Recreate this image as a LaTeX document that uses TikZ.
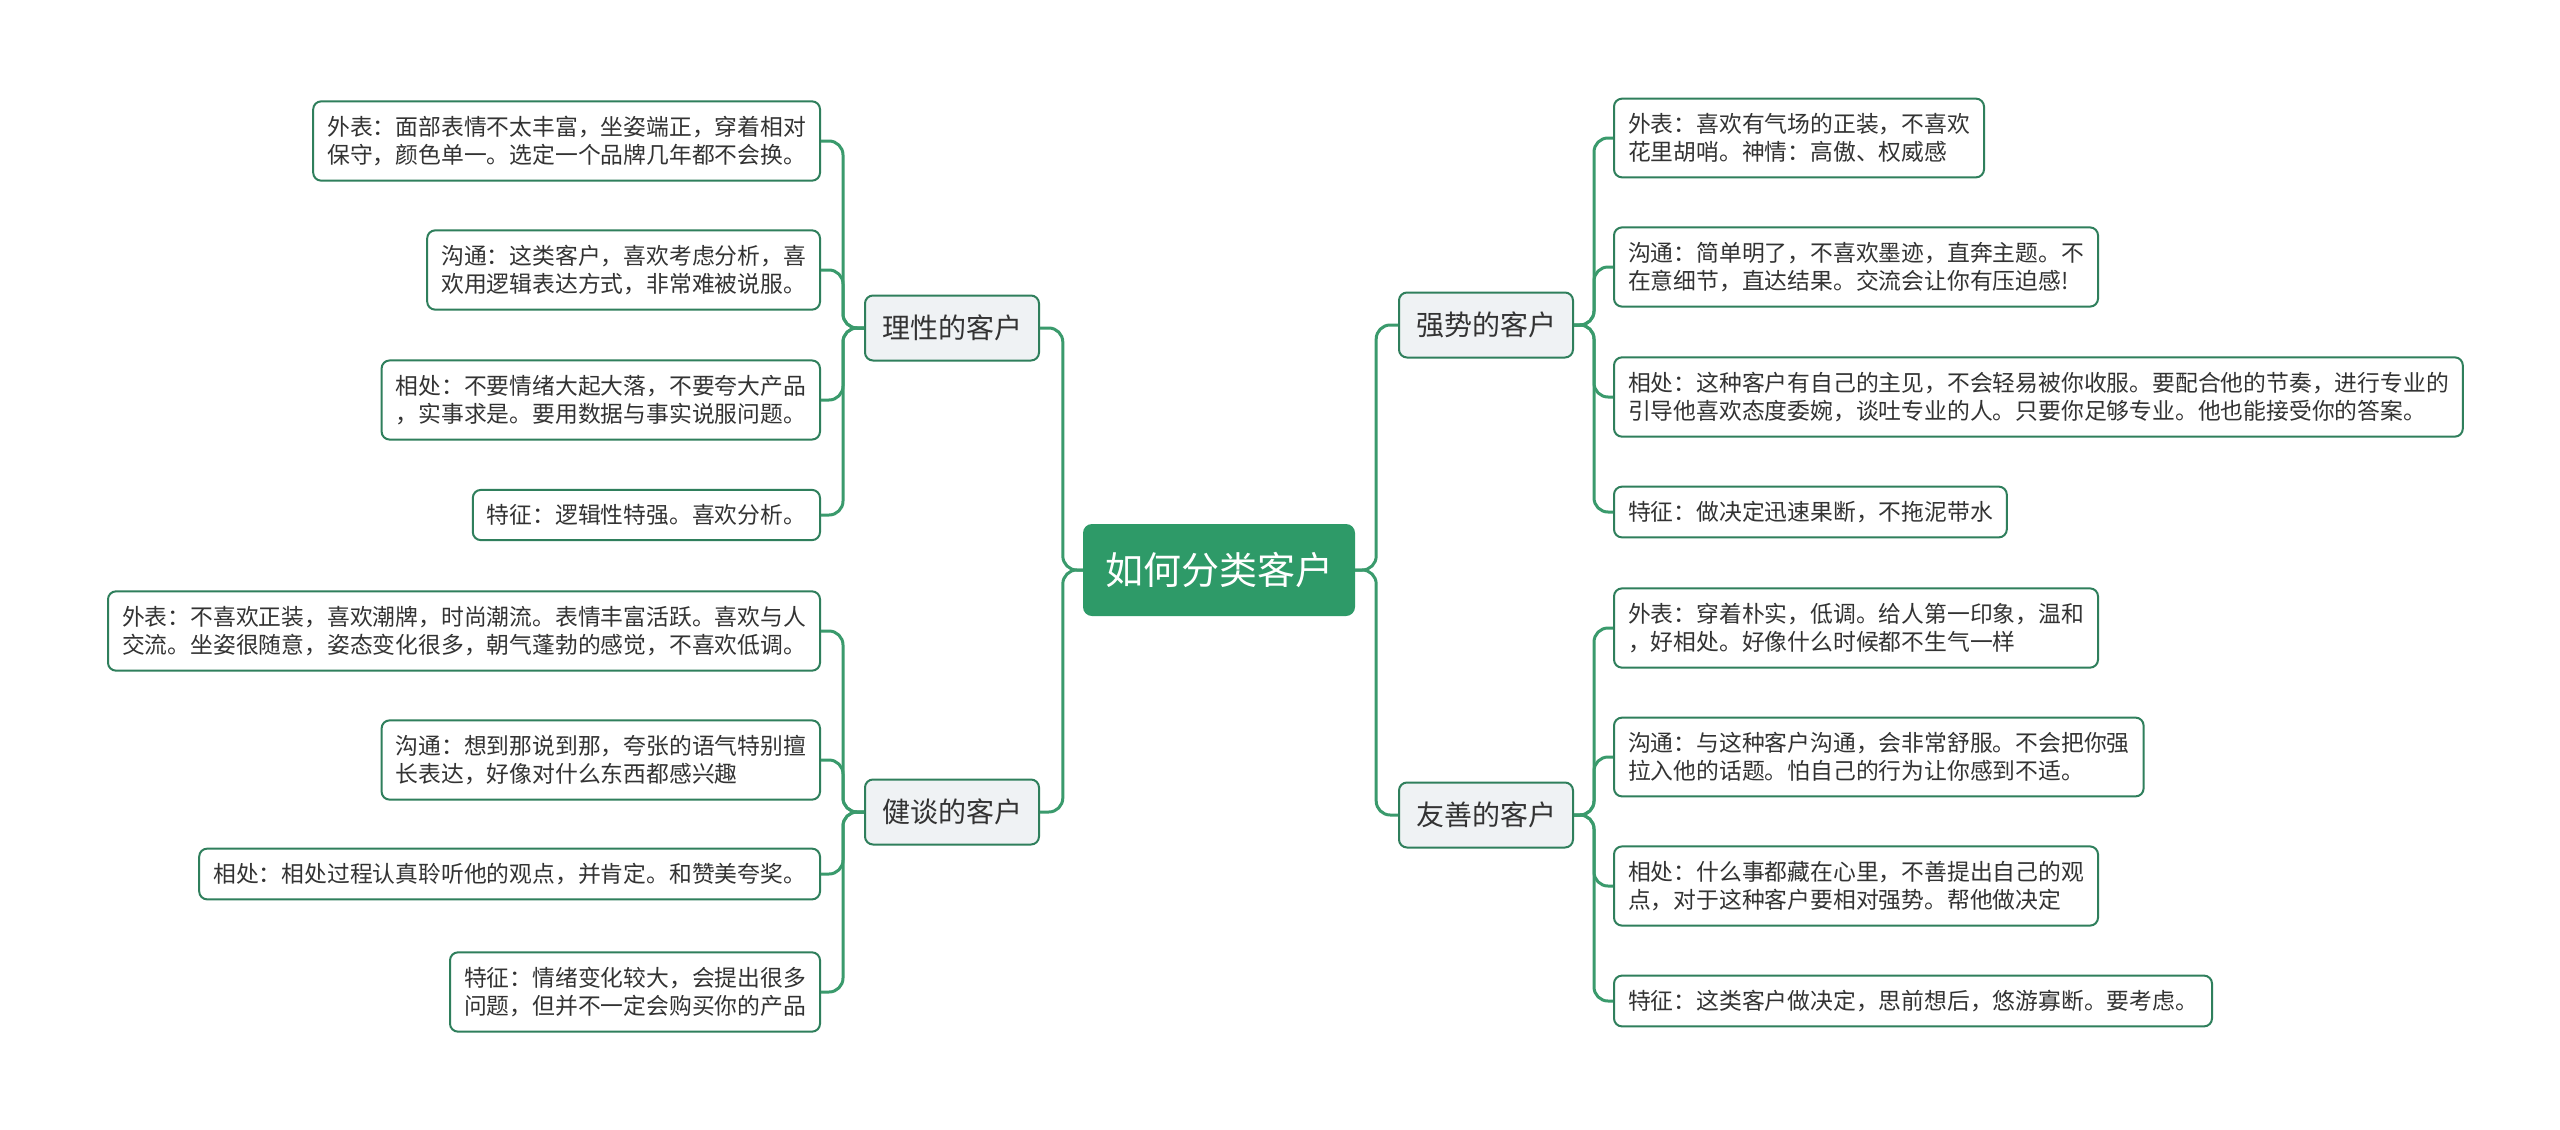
\documentclass[tikz,border=0pt]{standalone}
\usepackage{fontspec}
\setmainfont{Noto Sans CJK SC}
\usepackage{tikz}
\usetikzlibrary{positioning}
\definecolor{fundo}{HTML}{FFFFFF}
\definecolor{verde}{HTML}{2E9A68}
\definecolor{verdelinha}{HTML}{3A9A6C}
\definecolor{verdeborda}{HTML}{2F7F5C}
\definecolor{cinzaramo}{HTML}{EFF2F4}
\definecolor{textocinza}{HTML}{333333}
\tikzset{
  raiz/.style={fill=verde,rounded corners=9pt,text=white,inner xsep=22pt,minimum height=92pt,font=\fontsize{38}{44}\selectfont},
  ramo/.style={draw=verdeborda,line width=2pt,fill=cinzaramo,rounded corners=8pt,text=textocinza,inner xsep=17pt,minimum height=65pt,font=\fontsize{28}{34}\selectfont},
  folha/.style={draw=verdeborda,line width=2pt,fill=fundo,rounded corners=8pt,text=textocinza,align=left,inner xsep=14pt,inner ysep=14.5pt,font=\fontsize{22.8}{28.5}\selectfont},
  ligacao/.style={verdelinha,line width=3pt,rounded corners=14pt}
}

\begin{document}
\begin{tikzpicture}[x=1pt,y=-1pt]
      \useasboundingbox[fill=fundo] (0,0) rectangle (2560,1130);
      \node[raiz] (raiz) at (1219,570) {如何分类客户};
      \node[ramo] (racional) at (952,328) {理性的客户};
      \node[ramo] (falante) at (952,812) {健谈的客户};
      \node[ramo] (forte) at (1486,325) {强势的客户};
      \node[ramo] (amigavel) at (1486,815) {友善的客户};

      \node[folha,anchor=east] (rac1) at (821,141) {外表：面部表情不太丰富，坐姿端正，穿着相对\\保守，颜色单一。选定一个品牌几年都不会换。};
      \node[folha,anchor=east] (rac2) at (821,270) {沟通：这类客户，喜欢考虑分析，喜\\欢用逻辑表达方式，非常难被说服。};
      \node[folha,anchor=east] (rac3) at (821,400) {相处：不要情绪大起大落，不要夸大产品\\，实事求是。要用数据与事实说服问题。};
      \node[folha,anchor=east] (rac4) at (821,515) {特征：逻辑性特强。喜欢分析。};
      \node[folha,anchor=east] (fal1) at (821,631) {外表：不喜欢正装，喜欢潮牌，时尚潮流。表情丰富活跃。喜欢与人\\交流。坐姿很随意，姿态变化很多，朝气蓬勃的感觉，不喜欢低调。};
      \node[folha,anchor=east] (fal2) at (821,760) {沟通：想到那说到那，夸张的语气特别擅\\长表达，好像对什么东西都感兴趣};
      \node[folha,anchor=east] (fal3) at (821,874) {相处：相处过程认真聆听他的观点，并肯定。和赞美夸奖。};
      \node[folha,anchor=east] (fal4) at (821,992) {特征：情绪变化较大，会提出很多\\问题，但并不一定会购买你的产品};

      \node[folha,anchor=west] (for1) at (1613,138) {外表：喜欢有气场的正装，不喜欢\\花里胡哨。神情：高傲、权威感};
      \node[folha,anchor=west] (for2) at (1613,267) {沟通：简单明了，不喜欢墨迹，直奔主题。不\\在意细节，直达结果。交流会让你有压迫感!};
      \node[folha,anchor=west] (for3) at (1613,397) {相处：这种客户有自己的主见，不会轻易被你收服。要配合他的节奏，进行专业的\\引导他喜欢态度委婉，谈吐专业的人。只要你足够专业。他也能接受你的答案。};
      \node[folha,anchor=west] (for4) at (1613,512) {特征：做决定迅速果断，不拖泥带水};
      \node[folha,anchor=west] (ami1) at (1613,628) {外表：穿着朴实，低调。给人第一印象，温和\\，好相处。好像什么时候都不生气一样};
      \node[folha,anchor=west] (ami2) at (1613,757) {沟通：与这种客户沟通，会非常舒服。不会把你强\\拉入他的话题。怕自己的行为让你感到不适。};
      \node[folha,anchor=west] (ami3) at (1613,886) {相处：什么事都藏在心里，不善提出自己的观\\点，对于这种客户要相对强势。帮他做决定};
      \node[folha,anchor=west] (ami4) at (1613,1001) {特征：这类客户做决定，思前想后，悠游寡断。要考虑。};

      \begin{scope}[ligacao]
        \draw (raiz.west) -- ++(-20,0) |- (racional.east);
        \draw (raiz.west) -- ++(-20,0) |- (falante.east);
        \draw (raiz.east) -- ++(21,0) |- (forte.west);
        \draw (raiz.east) -- ++(21,0) |- (amigavel.west);
        \foreach \f in {rac1,rac2,rac3,rac4} \draw (racional.west) -- ++(-21,0) |- (\f.east);
        \foreach \f in {fal1,fal2,fal3,fal4} \draw (falante.west) -- ++(-21,0) |- (\f.east);
        \foreach \f in {for1,for2,for3,for4} \draw (forte.east) -- ++(20,0) |- (\f.west);
        \foreach \f in {ami1,ami2,ami3,ami4} \draw (amigavel.east) -- ++(20,0) |- (\f.west);
      \end{scope}
    \end{tikzpicture}
\end{document}
